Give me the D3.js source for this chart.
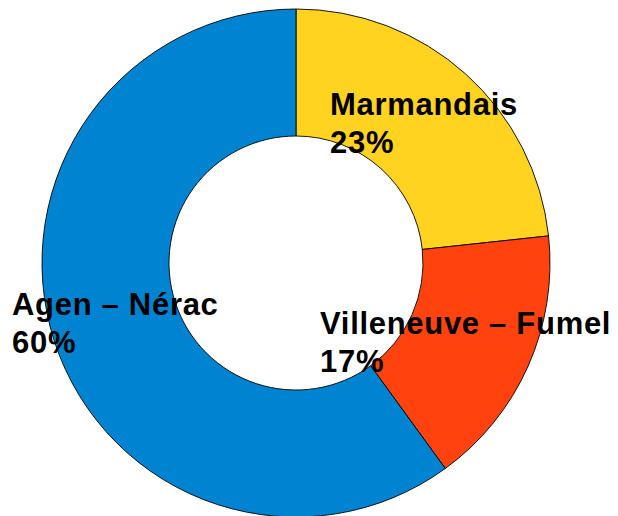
<html>
<head>
<meta charset="utf-8">
<script src="https://d3js.org/d3.v7.min.js"></script>
<style>
body { margin: 0; background: white; }
.lbl { font-family: "Liberation Sans", Arial, sans-serif; font-weight: bold; font-size: 31px; letter-spacing: 0.7px; fill: black; }
</style>
</head>
<body>
<svg width="618" height="516"></svg>
<script>
// donut data, clockwise from 12 o'clock
var regions = ["Marmandais", "Villeneuve – Fumel", "Agen – Nérac"];
var shares = [23.3, 16.7, 60.0];
var colours = ["#ffd320", "#ff420e", "#0084d1"];

// label anchor, first line baseline
var labelPos = [[330, 115], [320, 334], [12, 315]];

var cx = 296, cy = 263;
var outer = 254, inner = 127;

var svg = d3.select("svg");
var g = svg.append("g").attr("transform", "translate(" + cx + "," + cy + ")");

var pie = d3.pie().sort(null).value(function(d, i) { return shares[i]; });
var arc = d3.arc().innerRadius(inner).outerRadius(outer);

g.selectAll("path")
  .data(pie(regions))
  .enter().append("path")
  .attr("d", arc)
  .attr("fill", function(d, i) { return colours[i]; })
  .attr("stroke", "black")
  .attr("stroke-width", 0.9);

var labels = svg.selectAll("text.lbl")
  .data(regions)
  .enter().append("text")
  .attr("class", "lbl")
  .attr("x", function(d, i) { return labelPos[i][0]; })
  .attr("y", function(d, i) { return labelPos[i][1]; });

labels.append("tspan")
  .text(function(d) { return d; });
labels.append("tspan")
  .attr("x", function(d, i) { return labelPos[i][0]; })
  .attr("dy", 38)
  .text(function(d, i) { return Math.round(shares[i]) + "%"; });
</script>
</body>
</html>
